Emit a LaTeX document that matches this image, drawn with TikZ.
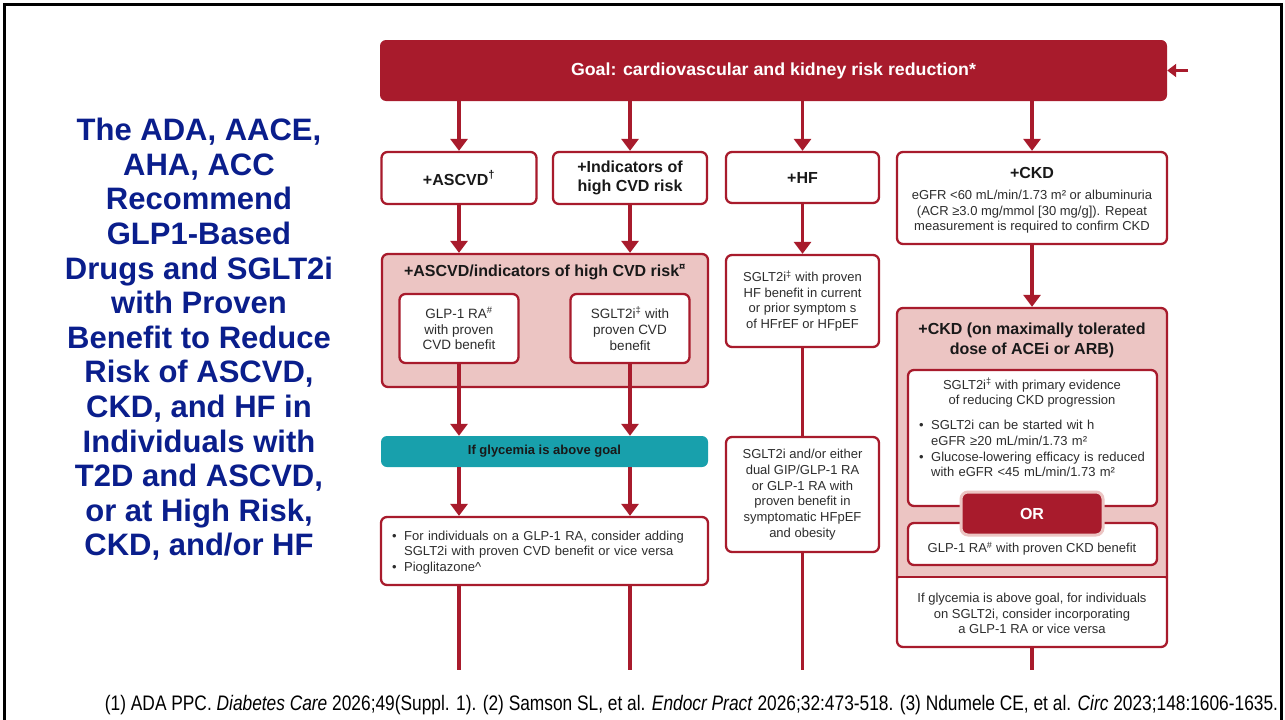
\documentclass[tikz,border=0pt]{standalone}
\usepackage{fontspec}
\usepackage{graphicx}
\setmainfont{Liberation Sans}
\usetikzlibrary{arrows.meta}
\definecolor{cred}{RGB}{168,27,44}
\definecolor{cpink}{RGB}{236,197,195}
\definecolor{cteal}{RGB}{24,160,172}
\definecolor{cnavy}{RGB}{10,30,140}
\definecolor{ctext}{RGB}{45,45,45}
\newcommand{\fsz}[2]{\fontsize{#1}{#2}\selectfont}
\begin{document}
\begin{tikzpicture}[x=1pt,y=-1pt,
  redbox/.style={draw=cred,line width=2.3pt,rounded corners=6pt,fill=white,inner sep=0pt,align=center,text=ctext,font=\fsz{13}{15.7}},
  titlebox/.style={redbox,font=\bfseries\fsz{16}{19.5},text=black!90},
  pinkbox/.style={draw=cred,line width=2.3pt,rounded corners=6pt,fill=cpink,inner sep=0pt},
  ttl/.style={font=\bfseries\fsz{16}{19.5},text=black!90,align=center,inner sep=0pt},
  txt/.style={font=\fsz{13}{15.7},text=ctext,align=center,inner sep=0pt},
  arr/.style={draw=cred,line width=3.2pt,-{Triangle[width=17pt,length=12pt]}},
  sidearr/.style={draw=cred,line width=2.2pt,-{Triangle[width=13pt,length=9pt]}},
  ln/.style={draw=cred,line width=3.2pt}]
\useasboundingbox (0,0) rectangle (1285,720);
\fill[white] (0,0) rectangle (1285,720);
% frame
\draw[black,line width=3pt] (4.5,720) -- (4.5,4.5) -- (1281.5,4.5) -- (1281.5,720);

% left title
\node[font=\bfseries\fsz{31}{34.6},text=cnavy,align=center,inner sep=0pt] (title) at (199,339.5)
 {The ADA, AACE,\\AHA, ACC\\Recommend\\GLP1-Based\\Drugs and SGLT2i\\with Proven\\Benefit to Reduce\\Risk of ASCVD,\\CKD, and HF in\\Individuals with\\T2D and ASCVD,\\or at High Risk,\\CKD, and/or HF};

% goal bar
\node[fill=cred,rounded corners=6pt,minimum width=787pt,minimum height=61pt,inner sep=0pt,text=white] (goal) at (773.5,70.5)
 {\resizebox{405pt}{\height}{\bfseries\fsz{17.5}{20}Goal: cardiovascular and kidney risk reduction*}};
\coordinate (gR) at (1188,70.5);
\draw[sidearr] (gR) -- (goal.east);

% row 1
\node[titlebox,minimum width=155pt,minimum height=52pt] (ascvd) at (459,178) {+ASCVD\textsuperscript{†}};
\node[titlebox,minimum width=154pt,minimum height=52pt] (ind) at (630,178) {+Indicators of\\high CVD risk};
\node[titlebox,minimum width=153pt,minimum height=51pt] (hf) at (802.5,177.5) {+HF};
\node[redbox,minimum width=270pt,minimum height=92pt] (ckd) at (1032,198) {};
\node[ttl] (ckdh) at (1032,173) {+CKD};
\node[txt,font=\fsz{13}{15.5}] (ckdtx) at (1032,212) {eGFR <60 mL/min/1.73 m² or albuminuria\\(ACR ≥3.0 mg/mmol [30 mg/g]). Repeat\\measurement is required to confirm CKD};

\draw[arr] (ascvd.north |- goal.south) -- (ascvd.north);
\draw[arr] (ind.north |- goal.south) -- (ind.north);
\draw[arr] (hf.north |- goal.south) -- (hf.north);
\draw[arr] (ckd.north |- goal.south) -- (ckd.north);

% ASCVD column
\node[pinkbox,minimum width=326pt,minimum height=133pt] (pinkA) at (545,320.5) {};
\node[ttl] (titleA) at (545,272) {+ASCVD/indicators of high CVD risk\textsuperscript{¤}};
\node[redbox,minimum width=119pt,minimum height=69pt,font=\fsz{13.5}{15.7}] (glpA) at (459,328.5) {GLP-1 RA\textsuperscript{\#}\\with proven\\CVD benefit};
\node[redbox,minimum width=119pt,minimum height=69pt,font=\fsz{13.5}{15.7}] (sgltA) at (630,328.5) {SGLT2i\textsuperscript{‡} with\\proven CVD\\benefit};
\draw[arr] (ascvd.south) -- (ascvd.south |- pinkA.north);
\draw[arr] (ind.south) -- (ind.south |- pinkA.north);

\node[fill=cteal,rounded corners=6pt,minimum width=327pt,minimum height=31pt,inner sep=0pt,font=\bfseries\fsz{13}{15.7},text=black!90] (glyc) at (544.5,451.5) {If glycemia is above goal};
\draw[arr] (glpA.south) -- (glpA.south |- glyc.north);
\draw[arr] (sgltA.south) -- (sgltA.south |- glyc.north);

\node[redbox,minimum width=327pt,minimum height=68pt] (bulA) at (544.5,551) {};
\node[txt,text width=306pt,align=left,anchor=west] (bulAt) at (392,552.5)
 {\makebox[12pt][l]{•}For individuals on a GLP-1 RA, consider adding\\
  \hspace*{12pt}SGLT2i with proven CVD benefit or vice versa\\
  \makebox[12pt][l]{•}Pioglitazone\textasciicircum};
\draw[arr] (glpA.south |- glyc.south) -- (glpA.south |- bulA.north);
\draw[arr] (sgltA.south |- glyc.south) -- (sgltA.south |- bulA.north);
\coordinate (eA1) at (459,670);
\coordinate (eA2) at (630,670);
\draw[ln] (glpA.south |- bulA.south) -- (eA1);
\draw[ln] (sgltA.south |- bulA.south) -- (eA2);

% HF column
\node[redbox,minimum width=153pt,minimum height=92pt] (hf2) at (802.5,301)
 {SGLT2i\textsuperscript{‡} with proven\\HF benefit in current\\or prior symptom s\\of HFrEF or HFpEF};
\node[redbox,minimum width=153pt,minimum height=115pt] (hf3) at (802.5,494.5)
 {SGLT2i and/or either\\dual GIP/GLP-1 RA\\or GLP-1 RA with\\proven benefit in\\symptomatic HFpEF\\and obesity};
\draw[arr] (hf.south) -- (hf2.north);
\draw[ln] (hf2.south) -- (hf3.north);
\coordinate (eH) at (802.5,670);
\draw[ln] (hf3.south) -- (eH);

% CKD column
\fill[cpink,rounded corners=6pt] (897,308) rectangle (1167,592);
\fill[white,rounded corners=6pt] (897,577) rectangle (1167,647);
\node[draw=cred,line width=2.3pt,rounded corners=6pt,minimum width=270pt,minimum height=339pt,inner sep=0pt] (ckdO) at (1032,477.5) {};
\draw[cred,line width=2.3pt] (897,577) -- (1167,577);
\node[ttl] (ckdT) at (1032,340.5) {+CKD (on maximally tolerated\\dose of ACEi or ARB)};
\node[redbox,minimum width=249pt,minimum height=136pt] (ckdI) at (1032.5,438) {};
\node[txt] (ckdIh) at (1032,393) {SGLT2i\textsuperscript{‡} with primary evidence\\of reducing CKD progression};
\node[txt,text width=232pt,align=left,anchor=west] (ckdIb) at (919,448.5)
 {\makebox[12pt][l]{•}SGLT2i can be started wit h\\
  \hspace*{12pt}eGFR ≥20 mL/min/1.73 m²\\
  \makebox[12pt][l]{•}Glucose-lowering efficacy is reduced\\
  \hspace*{12pt}with eGFR <45 mL/min/1.73 m²};
\node[redbox,minimum width=249pt,minimum height=42pt] (ckdG) at (1032.5,544) {};
\node[txt] (ckdGt) at (1032,548.5) {GLP-1 RA\textsuperscript{\#} with proven CKD benefit};
\node[fill=cred,draw=cpink,line width=3pt,rounded corners=7pt,minimum width=142pt,minimum height=43pt,inner sep=0pt,text=white,font=\bfseries\fsz{16}{19}] (orN) at (1032,513.5) {OR};
\node[txt] (ckdB) at (1032,613.5) {If glycemia is above goal, for individuals\\on SGLT2i, consider incorporating\\a GLP-1 RA or vice versa};
\draw[arr] (ckd.south) -- (ckdO.north);
\coordinate (eC) at (1032,670);
\draw[ln] (ckdO.south) -- (eC);

% footer
\node[inner sep=0pt,text=black] (foot) at (691.5,705)
 {\resizebox{1173pt}{\height}{\fsz{21}{24}(1) ADA PPC. \textit{Diabetes Care} 2026;49(Suppl. 1). (2) Samson SL, et al. \textit{Endocr Pract} 2026;32:473-518. (3) Ndumele CE, et al. \textit{Circ} 2023;148:1606-1635.}};
\end{tikzpicture}
\end{document}
